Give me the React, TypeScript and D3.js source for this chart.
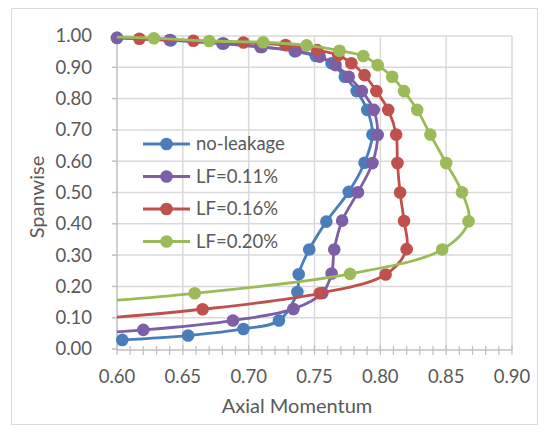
import React, { useEffect, useRef } from "react";
import * as d3 from "d3";

// axial momentum (x) and spanwise (y) for each case
const noLeakX = [0.6, 0.641, 0.68, 0.71, 0.735, 0.751, 0.763, 0.773, 0.782, 0.79, 0.794, 0.788, 0.776, 0.759, 0.746, 0.738, 0.737, 0.723, 0.696, 0.654, 0.604];
const noLeakY = [0.994, 0.986, 0.976, 0.965, 0.951, 0.936, 0.913, 0.87, 0.824, 0.764, 0.685, 0.595, 0.502, 0.407, 0.318, 0.239, 0.182, 0.091, 0.064, 0.043, 0.029];

const lf11X = [0.6, 0.64, 0.681, 0.709, 0.736, 0.754, 0.766, 0.776, 0.786, 0.795, 0.798, 0.794, 0.783, 0.771, 0.765, 0.763, 0.756, 0.734, 0.688, 0.62, 0.55];
const lf11Y = [0.994, 0.987, 0.976, 0.965, 0.953, 0.934, 0.907, 0.87, 0.824, 0.764, 0.684, 0.594, 0.501, 0.41, 0.318, 0.241, 0.179, 0.128, 0.091, 0.061, 0.042];

const lf16X = [0.617, 0.658, 0.696, 0.728, 0.752, 0.768, 0.778, 0.788, 0.797, 0.806, 0.812, 0.813, 0.815, 0.818, 0.82, 0.804, 0.754, 0.665, 0.55];
const lf16Y = [0.991, 0.985, 0.979, 0.971, 0.955, 0.939, 0.913, 0.875, 0.824, 0.764, 0.685, 0.594, 0.5, 0.409, 0.319, 0.238, 0.178, 0.127, 0.085];

const lf20X = [0.585, 0.628, 0.67, 0.711, 0.744, 0.769, 0.787, 0.798, 0.809, 0.818, 0.828, 0.838, 0.85, 0.862, 0.867, 0.847, 0.777, 0.659, 0.55];
const lf20Y = [0.998, 0.993, 0.984, 0.98, 0.97, 0.953, 0.936, 0.907, 0.87, 0.824, 0.764, 0.685, 0.594, 0.501, 0.408, 0.318, 0.24, 0.178, 0.14];

const seriesNames = ["no-leakage", "LF=0.11%", "LF=0.16%", "LF=0.20%"];
const seriesColors = ["#4a7ebb", "#7d5fa6", "#c0504d", "#9bbb59"];
const seriesX = [noLeakX, lf11X, lf16X, lf20X];
const seriesY = [noLeakY, lf11Y, lf16Y, lf20Y];

const xTicks = [0.6, 0.65, 0.7, 0.75, 0.8, 0.85, 0.9];
const yTicks = [0, 0.1, 0.2, 0.3, 0.4, 0.5, 0.6, 0.7, 0.8, 0.9, 1.0];

const FONT = "Lato, 'Open Sans', sans-serif";

export default function App() {
  const svgRef = useRef<SVGSVGElement>(null);

  useEffect(() => {
    const svg = d3.select(svgRef.current);
    svg.selectAll("*").remove();

    const W = 546;
    const H = 434;
    const left = 117, right = 512, top = 36, bottom = 349;

    const x = d3.scaleLinear().domain([0.6, 0.9]).range([left, right]);
    const y = d3.scaleLinear().domain([0, 1]).range([bottom, top]);

    svg.attr("width", W).attr("height", H);

    svg.append("rect").attr("width", W).attr("height", H).attr("fill", "#fff");

    // chart border
    svg
      .append("rect")
      .attr("x", 11.5)
      .attr("y", 8.5)
      .attr("width", 526)
      .attr("height", 416)
      .attr("fill", "none")
      .attr("stroke", "#d9d9d9");

    // gridlines
    const grid = svg.append("g").attr("stroke", "#d9d9d9").attr("stroke-width", 1.5);
    yTicks.slice(1).forEach((t) => {
      grid.append("line").attr("x1", left).attr("x2", right).attr("y1", y(t)).attr("y2", y(t));
    });
    xTicks.slice(1).forEach((t) => {
      grid.append("line").attr("x1", x(t)).attr("x2", x(t)).attr("y1", top).attr("y2", bottom);
    });

    // axes
    const axisColor = "#bfbfbf";
    svg.append("line").attr("x1", left).attr("x2", left).attr("y1", top).attr("y2", bottom + 1)
      .attr("stroke", axisColor).attr("stroke-width", 1.5);
    svg.append("line").attr("x1", left).attr("x2", right).attr("y1", bottom + 1).attr("y2", bottom + 1)
      .attr("stroke", axisColor).attr("stroke-width", 1.5);

    // y major ticks
    yTicks.forEach((t) => {
      svg.append("line").attr("x1", left - 5).attr("x2", left).attr("y1", y(t)).attr("y2", y(t))
        .attr("stroke", axisColor).attr("stroke-width", 1.5);
    });
    // x ticks (major + minor, crossing the axis)
    d3.range(0, 31).forEach((i) => {
      const v = 0.6 + i * 0.01;
      const major = i % 5 === 0;
      svg.append("line").attr("x1", x(v)).attr("x2", x(v))
        .attr("y1", bottom + 1 - (major ? 5 : 4)).attr("y2", bottom + 1 + 5)
        .attr("stroke", axisColor).attr("stroke-width", 1.2);
    });

    // tick labels
    svg.append("g").selectAll("text").data(yTicks).enter().append("text")
      .attr("x", 92).attr("y", (d) => y(d)).attr("dy", "0.35em")
      .attr("text-anchor", "end").attr("font-family", FONT).attr("font-size", 18.5)
      .attr("fill", "#595959").text((d) => d.toFixed(2));
    svg.append("g").selectAll("text").data(xTicks).enter().append("text")
      .attr("x", (d) => x(d)).attr("y", 383)
      .attr("text-anchor", "middle").attr("font-family", FONT).attr("font-size", 18.5)
      .attr("fill", "#595959").text((d) => d.toFixed(2));

    // axis titles
    svg.append("text").attr("transform", "translate(44,197) rotate(-90)")
      .attr("text-anchor", "middle").attr("font-family", FONT).attr("font-size", 20)
      .attr("fill", "#595959").text("Spanwise");
    svg.append("text").attr("x", 297).attr("y", 413)
      .attr("text-anchor", "middle").attr("font-family", FONT).attr("font-size", 20)
      .attr("fill", "#595959").text("Axial Momentum");

    svg.append("clipPath").attr("id", "plot-clip").append("rect")
      .attr("x", left).attr("y", top - 10).attr("width", right - left).attr("height", bottom - top + 10);

    const line = d3
      .line<[number, number]>()
      .x((d) => x(d[0]))
      .y((d) => y(d[1]))
      .curve(d3.curveCatmullRom.alpha(0.5));

    seriesNames.forEach((name, i) => {
      const pts: [number, number][] = seriesX[i].map((v, j) => [v, seriesY[i][j]]);
      const g = svg.append("g");
      g.append("path").attr("d", line(pts)).attr("fill", "none")
        .attr("stroke", seriesColors[i]).attr("stroke-width", 2.8)
        .attr("clip-path", "url(#plot-clip)");
      g.selectAll("circle").data(pts.filter((p) => p[0] >= 0.6)).enter().append("circle")
        .attr("cx", (d) => x(d[0])).attr("cy", (d) => y(d[1])).attr("r", 6.3)
        .attr("fill", seriesColors[i]);
    });

    // legend
    const legend = svg.append("g");
    seriesNames.forEach((name, i) => {
      const ly = 144 + i * 32.5;
      legend.append("line").attr("x1", 143).attr("x2", 190).attr("y1", ly).attr("y2", ly)
        .attr("stroke", seriesColors[i]).attr("stroke-width", 2.8);
      legend.append("circle").attr("cx", 166.5).attr("cy", ly).attr("r", 6.3).attr("fill", seriesColors[i]);
      legend.append("text").attr("x", 196).attr("y", ly).attr("dy", "0.35em")
        .attr("font-family", FONT).attr("font-size", 18.5).attr("fill", "#595959").text(name);
    });
  }, []);

  return <svg ref={svgRef} style={{ position: "absolute", left: 0, top: 0 }}></svg>;
}
